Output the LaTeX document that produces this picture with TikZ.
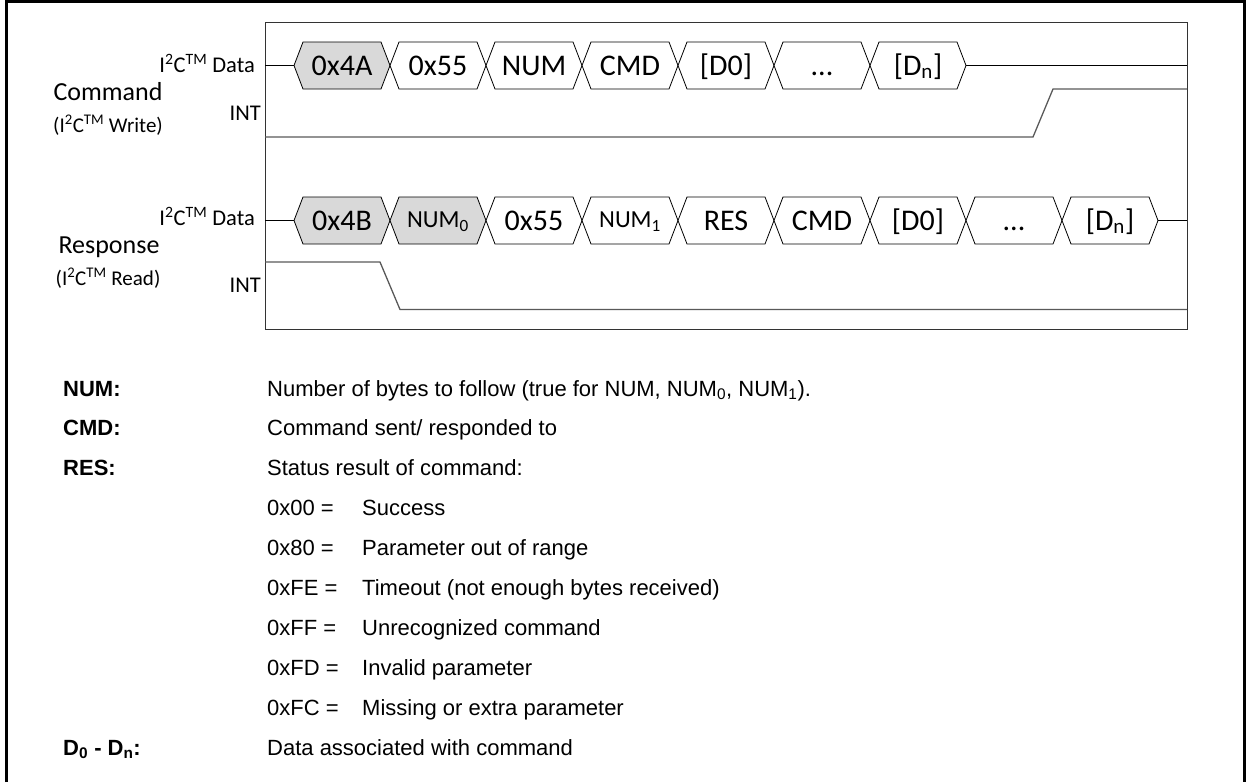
\documentclass[tikz,border=0pt]{standalone}
\usepackage{fontspec}
\setmainfont{Liberation Sans}
\newfontfamily\calibri{Carlito}
\definecolor{byteGray}{HTML}{D9D9D9}
\newcommand{\iicTM}{I\textsuperscript{2}C\textsuperscript{TM}}
\newcommand{\moreBytes}{...}
\begin{document}
\begin{tikzpicture}
[x=1pt,y=-1pt,
  outerLine/.style={-,line width=2.7pt},%
  boxLine/.style={-,line width=1pt,color=black!80},%
  dataLine/.style={-,line width=1pt},%
  intLine/.style={-,line width=1.3pt,color=black!65},%
  byteDecorate/.style={draw,line width=0.8pt},%
  byteText/.style={font=\calibri\fontsize{30}{36}\selectfont,inner sep=0pt,anchor=base},%
  smallByte/.style={font=\calibri\fontsize{24.5}{29}\selectfont,inner sep=0pt,anchor=base,yshift=2.5pt},%
  sigLabel/.style={font=\calibri\fontsize{22.5}{27}\selectfont,inner sep=0pt,anchor=base east},%
  groupLabel/.style={font=\calibri\fontsize{26}{31}\selectfont,inner sep=0pt,anchor=base},%
  groupSub/.style={font=\calibri\fontsize{21}{25}\selectfont,inner sep=0pt,anchor=base},%
  keyText/.style={font=\fontsize{22}{26}\selectfont,inner sep=0pt,anchor=base west},%
  keyBold/.style={keyText,font=\bfseries\fontsize{22}{26}\selectfont}]
\useasboundingbox (0,0) rectangle (1246,782);
%% frame and box
\draw[outerLine] (6.2,782) -- (6.2,1.35) -- (1244.6,1.35) -- (1244.6,782);
\draw[boxLine] (265,22) rectangle (1187,329);
%% command bytes
\foreach \i/\txt/\col/\sty in {0/0x4A/byteGray/byteText, 1/0x55/white/byteText, 2/NUM/white/byteText, 3/CMD/white/byteText, 4/{[D0]}/white/byteText, 5/\moreBytes/white/byteText, 6/{[D\textsubscript{n}]}/white/byteText}
{
  \pgfmathsetmacro{\xa}{294+96*\i}
  \draw[byteDecorate,fill=\col] (\xa,65.5) -- ++(9,-23.5) -- ++(78,0) -- ++(9,23.5) -- ++(-9,23.5) -- ++(-78,0) -- cycle;
  \node (cmd\i) at (\xa+48,75) [\sty] {\txt};
}
%% response bytes
\foreach \i/\txt/\col/\sty in {0/0x4B/byteGray/byteText, 1/{NUM\textsubscript{0}}/byteGray/smallByte, 2/0x55/white/byteText, 3/{NUM\textsubscript{1}}/white/smallByte, 4/RES/white/byteText, 5/CMD/white/byteText, 6/{[D0]}/white/byteText, 7/\moreBytes/white/byteText, 8/{[D\textsubscript{n}]}/white/byteText}
{
  \pgfmathsetmacro{\xa}{294+96*\i}
  \draw[byteDecorate,fill=\col] (\xa,220.5) -- ++(9,-23.5) -- ++(78,0) -- ++(9,23.5) -- ++(-9,23.5) -- ++(-78,0) -- cycle;
  \node (rsp\i) at (\xa+48,230) [\sty] {\txt};
}
%% idle data lines
\draw[dataLine] (265,65.5) -- (294,65.5);
\draw[dataLine] (966,65.5) -- (1187,65.5);
\draw[dataLine] (265,220.5) -- (294,220.5);
\draw[dataLine] (1158,220.5) -- (1187,220.5);
%% INT lines
\draw[intLine] (265,137) -- (1033,137) -- (1053,89) -- (1187,89);
\draw[intLine] (265,262) -- (380,262) -- (400,309.5) -- (1187,309.5);
%% signal labels
\node (cmdData) at (255,72.5) [sigLabel] {\iicTM\ Data};
\node (cmdInt) at (261,120.5) [sigLabel] {INT};
\node (cmdName) at (108,100) [groupLabel] {Command};
\node (cmdMode) at (108,132) [groupSub] {(\iicTM\ Write)};
\node (rspData) at (255,225.5) [sigLabel] {\iicTM\ Data};
\node (rspInt) at (261,292) [sigLabel] {INT};
\node (rspName) at (109,253.5) [groupLabel] {Response};
\node (rspMode) at (108,285) [groupSub] {(\iicTM\ Read)};
%% key
\node (numKey) at (63,396) [keyBold] {NUM:};
\node (numText) at (267,396) [keyText] {Number of bytes to follow (true for NUM, NUM\textsubscript{0}, NUM\textsubscript{1}).};
\node (cmdKey) at (63,435) [keyBold] {CMD:};
\node (cmdText) at (267,435) [keyText] {Command sent/ responded to};
\node (resKey) at (63,475) [keyBold] {RES:};
\node (resText) at (267,475) [keyText] {Status result of command:};
\foreach \code/\desc [count=\k from 0] in {0x00/Success, 0x80/Parameter out of range, 0xFE/Timeout (not enough bytes received), 0xFF/Unrecognized command, 0xFD/Invalid parameter, 0xFC/Missing or extra parameter}
{
  \node (code\k) at (267,515+40*\k) [keyText] {\code\ =};
  \node (desc\k) at (362,515+40*\k) [keyText] {\desc};
}
\node (datKey) at (63,755) [keyBold] {D\textsubscript{0} - D\textsubscript{n}:};
\node (datText) at (267,755) [keyText] {Data associated with command};
\end{tikzpicture}
\end{document}
